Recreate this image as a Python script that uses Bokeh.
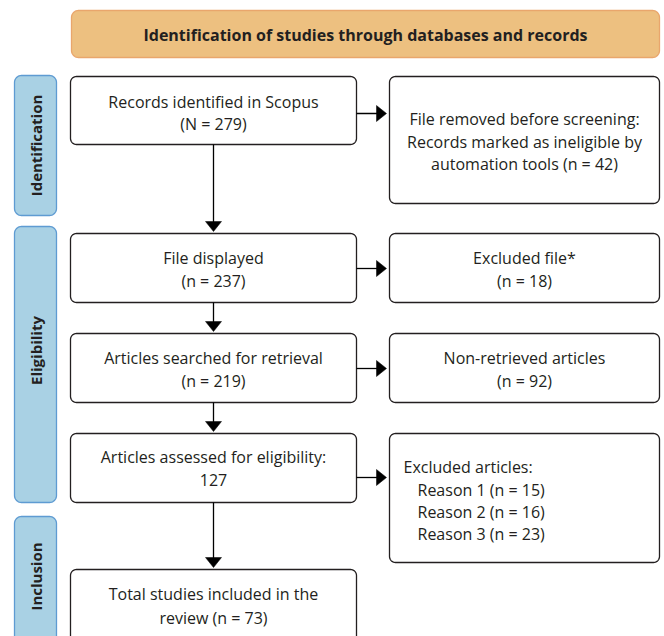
import numpy as np
from bokeh.plotting import figure
from bokeh.models import Range1d
from bokeh.core.properties import value
from bokeh.embed import file_html
from bokeh.resources import INLINE

# ---------------- data ----------------
header_title = "Identification of studies through databases and records"
stage_labels = ["Identification", "Eligibility", "Inclusion"]

main_labels = ["Records identified in Scopus", "File displayed",
               "Articles searched for retrieval", "Articles assessed for eligibility:",
               "Total studies included in the"]
main_counts = [279, 237, 219, 127, 73]

side_labels = ["File removed before screening:", "Excluded file*", "Non-retrieved articles",
               "Excluded articles:"]
side_counts = [42, 18, 92]
reason_labels = ["Reason 1", "Reason 2", "Reason 3"]
reason_counts = [15, 16, 23]

# ---------------- text lines built from data ----------------
main_lines = [
    [main_labels[0], f"(N = {main_counts[0]})"],
    [main_labels[1], f"(n = {main_counts[1]})"],
    [main_labels[2], f"(n = {main_counts[2]})"],
    [main_labels[3], f"{main_counts[3]}"],
    [main_labels[4], f"review (n = {main_counts[4]})"],
]
side_lines = [
    [side_labels[0], "Records marked as ineligible by", f"automation tools (n = {side_counts[0]})"],
    [side_labels[1], f"(n = {side_counts[1]})"],
    [side_labels[2], f"(n = {side_counts[2]})"],
]
reason_lines = [f"{r} (n = {c})" for r, c in zip(reason_labels, reason_counts)]

# ---------------- layout (screen pixel coordinates) ----------------
W, H = 664, 636
p = figure(width=W, height=H, output_backend="svg", toolbar_location=None,
           x_range=Range1d(0, 664), y_range=Range1d(636, 0),
           min_border=0, outline_line_color=None)
p.axis.visible = False
p.grid.visible = False
p.background_fill_color = "white"
p.border_fill_color = "white"


def rrect(x0, y0, x1, y1, r, n=10):
    xs, ys = [], []
    corners = [(x1 - r, y0 + r, -np.pi / 2, 0), (x1 - r, y1 - r, 0, np.pi / 2),
               (x0 + r, y1 - r, np.pi / 2, np.pi), (x0 + r, y0 + r, np.pi, 1.5 * np.pi)]
    for cx, cy, a0, a1 in corners:
        t = np.linspace(a0, a1, n)
        xs.extend(cx + r * np.cos(t))
        ys.extend(cy + r * np.sin(t))
    return list(xs), list(ys)


def draw_boxes(rects, r, fill, line, lw):
    xs, ys = [], []
    for (x0, y0, x1, y1) in rects:
        a, b = rrect(x0, y0, x1, y1, r)
        xs.append(a)
        ys.append(b)
    p.patches(xs, ys, fill_color=fill, line_color=line, line_width=lw)


# header
draw_boxes([(71, 10, 659, 57)], 7, "#EDC080", "#E9A66C", 1.3)
# stage side bars
stage_rects = [(14, 75, 56, 215), (14, 226, 56, 502), (14, 516, 56, 670)]
draw_boxes(stage_rects, 7, "#A9D1E4", "#5E9BD2", 1.3)

# boxes
LX0, LX1 = 70, 356
RX0, RX1 = 389, 659
main_rects = [(LX0, 76, LX1, 144), (LX0, 233, LX1, 302), (LX0, 333, LX1, 402),
              (LX0, 433, LX1, 502), (LX0, 569, LX1, 690)]
side_rects = [(RX0, 76, RX1, 203), (RX0, 233, RX1, 302), (RX0, 333, RX1, 402),
              (RX0, 433, RX1, 562)]
draw_boxes(main_rects, 6, "white", "#231F20", 1.3)
draw_boxes(side_rects, 6, "white", "#231F20", 1.3)

# arrows
CX = 213
arrow_line_x, arrow_line_y = [], []
heads_x, heads_y = [], []
HL, HW = 10, 16
h_y = [113, 268, 368, 477]
for yy in h_y:
    tip = RX0 - 3
    arrow_line_x.append([LX1, tip - HL + 1])
    arrow_line_y.append([yy, yy])
    heads_x.append([tip - HL, tip, tip - HL])
    heads_y.append([yy - HW / 2, yy, yy + HW / 2])
for i in range(4):
    y0 = main_rects[i][3]
    tip = main_rects[i + 1][1] - 2
    arrow_line_x.append([CX, CX])
    arrow_line_y.append([y0, tip - HL + 1])
    heads_x.append([CX - HW / 2, CX, CX + HW / 2])
    heads_y.append([tip - HL, tip, tip - HL])
p.multi_line(arrow_line_x, arrow_line_y, line_color="#000000", line_width=1.3)
p.patches(heads_x, heads_y, fill_color="#000000", line_color="#000000", line_width=0.5)

FONT = "Open Sans"
FS = "16px"
TXT = "#231F20"

# header text
p.text(x=[365], y=[34], text=[header_title], text_align="center", text_baseline="middle",
       text_font=value(FONT), text_font_style="bold", text_font_size="16px", text_color=TXT)

# stage labels (rotated)
stage_y = [145, 350, 576]
p.text(x=[35, 35, 35], y=stage_y, text=stage_labels, angle=np.pi / 2, text_align="center",
       text_baseline="middle", text_font=value("Open Sans"), text_font_style="bold",
       text_font_size="15px", text_color=TXT)

# main box text
tx, ty, tt = [], [], []
main_line_y = [[101, 123], [257, 280], [357, 380], [456, 479], [593, 617]]
for lines, ys, rect in zip(main_lines, main_line_y, main_rects):
    for ln, yy in zip(lines, ys):
        tx.append((rect[0] + rect[2]) / 2)
        ty.append(yy)
        tt.append(ln)
side_line_y = [[118, 141, 163], [257, 280], [357, 380]]
for lines, ys, rect in zip(side_lines, side_line_y, side_rects):
    for ln, yy in zip(lines, ys):
        tx.append((rect[0] + rect[2]) / 2)
        ty.append(yy)
        tt.append(ln)
p.text(x=tx, y=ty, text=tt, text_align="center", text_baseline="middle",
       text_font=value(FONT), text_font_size=FS, text_color=TXT)

# excluded articles (left aligned)
lx = [403] + [417] * len(reason_lines)
ly = [466, 489, 511, 533]
lt = [side_labels[3]] + reason_lines
p.text(x=lx, y=ly, text=lt, text_align="left", text_baseline="middle",
       text_font=value(FONT), text_font_size=FS, text_color=TXT)

open("out.html", "w").write(file_html(p, INLINE))
